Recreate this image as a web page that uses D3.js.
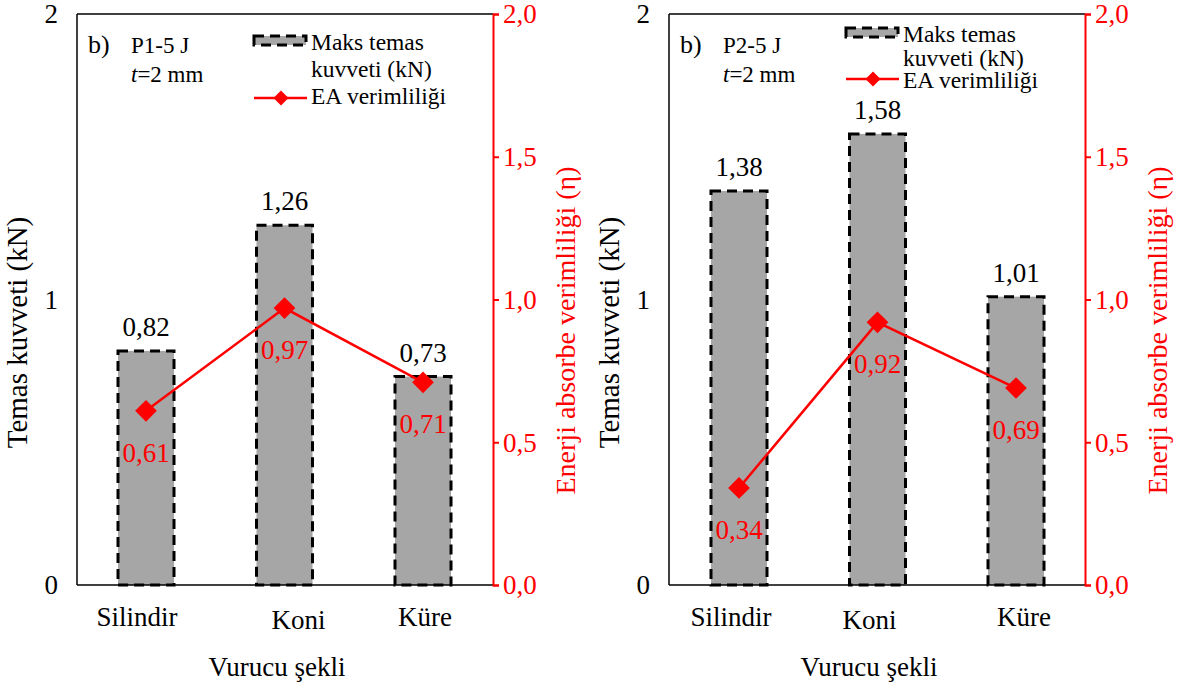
<!DOCTYPE html>
<html>
<head>
<meta charset="utf-8">
<script src="https://cdn.jsdelivr.net/npm/d3@7"></script>
<style>
  body { margin: 0; background: #fff; }
</style>
</head>
<body>
<svg id="chart" width="1186" height="691"></svg>
<script>
// Impactor shapes
const categories = ["Silindir", "Koni", "Küre"];

// Panel P1-5 J
const forceP1 = [0.82, 1.26, 0.73];      // max contact force (kN)
const effP1 = [0.61, 0.97, 0.71];        // energy absorption efficiency

// Panel P2-5 J
const forceP2 = [1.38, 1.58, 1.01];
const effP2 = [0.34, 0.92, 0.69];

const leftTicks = [0, 1, 2];
const rightTicks = [0, 0.5, 1.0, 1.5, 2.0];

const SERIF = "'Liberation Serif', Tinos, 'Times New Roman', 'DejaVu Serif', 'Noto Serif', serif";

const panels = [
  { label: "P1-5 J", force: forceP1, eff: effP1, x0: 77, x1: 493,
    barCenters: [146, 285, 423], catShift: [-9, 14, 2], catY: [626, 629, 626],
    legend: { swatchY: 36, text: [50, 77, 104], lineY: 98 } },
  { label: "P2-5 J", force: forceP2, eff: effP2, x0: 669, x1: 1085,
    barCenters: [739, 877, 1016], catShift: [-8, -8, 8], catY: [626, 629, 626],
    legend: { swatchY: 28, text: [42, 66, 88], lineY: 79 } }
];

const svg = d3.select("#chart").attr("font-family", SERIF);
const plotTop = 14, plotBottom = 585;
const red = "#ff0000";
const gray = "#a6a6a6";
const fs = 27;
const fmt = v => d3.format(".2f")(v).replace(".", ",");
const fmtTick = v => d3.format(".1f")(v).replace(".", ",");

function txt(sel) {
  return sel.append("text").attr("font-family", SERIF);
}

panels.forEach(p => {
  const g = svg.append("g");
  const xc = d3.scalePoint().domain(categories).range([p.barCenters[0], p.barCenters[2]]);
  const barW = 56;
  const yL = d3.scaleLinear().domain([0, 2]).range([plotBottom, plotTop]);
  const yR = d3.scaleLinear().domain([0, 2]).range([plotBottom, plotTop]);

  // frame: top and left lines
  g.append("line").attr("x1", p.x0).attr("x2", p.x1).attr("y1", plotTop).attr("y2", plotTop)
    .attr("stroke", "#000").attr("stroke-width", 1.5);
  g.append("line").attr("x1", p.x0).attr("x2", p.x0).attr("y1", plotTop).attr("y2", plotBottom)
    .attr("stroke", "#000").attr("stroke-width", 1.5);

  // bars
  g.selectAll("rect.bar").data(p.force).join("rect")
    .attr("class", "bar")
    .attr("x", (d, i) => xc(categories[i]) - barW / 2)
    .attr("y", d => yL(d))
    .attr("width", barW)
    .attr("height", d => plotBottom - yL(d))
    .attr("fill", gray)
    .attr("stroke", "#000")
    .attr("stroke-width", 3)
    .attr("stroke-dasharray", "10,6");

  // baseline
  g.append("line").attr("x1", p.x0).attr("x2", p.x1).attr("y1", plotBottom).attr("y2", plotBottom)
    .attr("stroke", "#000").attr("stroke-width", 1.5);

  // bar value labels
  g.selectAll("text.fv").data(p.force).join("text")
    .attr("class", "fv")
    .attr("font-family", SERIF)
    .attr("x", (d, i) => xc(categories[i]))
    .attr("y", d => yL(d) - 15)
    .attr("text-anchor", "middle")
    .attr("font-size", fs)
    .attr("fill", "#000")
    .text(d => fmt(d));

  // left axis labels (no tick marks)
  g.selectAll("text.lt").data(leftTicks).join("text")
    .attr("class", "lt")
    .attr("font-family", SERIF)
    .attr("x", p.x0 - 19)
    .attr("y", d => yL(d) + 9)
    .attr("text-anchor", "end")
    .attr("font-size", fs)
    .text(d => d);

  // right axis
  const axR = d3.axisRight(yR).tickValues(rightTicks).tickFormat(fmtTick).tickSize(6).tickPadding(4);
  const gr = g.append("g").attr("transform", `translate(${p.x1},0)`).call(axR);
  gr.attr("font-family", SERIF).attr("font-size", fs);
  gr.select(".domain").attr("stroke", red).attr("stroke-width", 2);
  gr.selectAll(".tick line").attr("stroke", red).attr("stroke-width", 2);
  gr.selectAll(".tick text").attr("fill", red).attr("font-family", SERIF)
    .attr("font-size", fs).attr("dy", "0.33em");

  // efficiency line and markers
  const line = d3.line().x((d, i) => xc(categories[i])).y(d => yR(d));
  g.append("path").datum(p.eff).attr("d", line)
    .attr("fill", "none").attr("stroke", red).attr("stroke-width", 2.5);
  g.selectAll("path.mk").data(p.eff).join("path")
    .attr("class", "mk")
    .attr("d", d3.symbol().type(d3.symbolDiamond2).size(300))
    .attr("transform", (d, i) => `translate(${xc(categories[i])},${yR(d)})`)
    .attr("fill", red);
  g.selectAll("text.ev").data(p.eff).join("text")
    .attr("class", "ev")
    .attr("font-family", SERIF)
    .attr("x", (d, i) => xc(categories[i]))
    .attr("y", d => yR(d) + 51)
    .attr("text-anchor", "middle")
    .attr("font-size", fs)
    .attr("fill", red)
    .text(d => fmt(d));

  // category labels
  g.selectAll("text.cat").data(categories).join("text")
    .attr("class", "cat")
    .attr("font-family", SERIF)
    .attr("x", (d, i) => xc(d) + p.catShift[i])
    .attr("y", (d, i) => p.catY[i])
    .attr("text-anchor", "middle")
    .attr("font-size", fs)
    .text(d => d);

  // axis titles
  txt(g)
    .attr("x", (p.x0 + p.x1) / 2 - 8)
    .attr("y", 676)
    .attr("text-anchor", "middle")
    .attr("font-size", fs)
    .text("Vurucu şekli");
  txt(g)
    .attr("transform", `translate(${p.x0 - 50},${(plotTop + plotBottom) / 2 + 33}) rotate(-90)`)
    .attr("text-anchor", "middle")
    .attr("font-size", 29)
    .text("Temas kuvveti (kN)");
  txt(g)
    .attr("transform", `translate(${p.x1 + 82},${(plotTop + plotBottom) / 2 + 31}) rotate(-90)`)
    .attr("text-anchor", "middle")
    .attr("font-size", 28)
    .attr("fill", red)
    .text("Enerji absorbe verimliliği (η)");

  // panel annotation
  txt(g).attr("x", p.x0 + 11).attr("y", 53).attr("font-size", 26).text("b)");
  txt(g).attr("x", p.x0 + 54).attr("y", 53).attr("font-size", 23).text(p.label);
  const t = txt(g).attr("x", p.x0 + 54).attr("y", 82).attr("font-size", 23);
  t.append("tspan").attr("font-style", "italic").text("t");
  t.append("tspan").text("=2 mm");

  // legend
  const lx = p.x0 + 177;
  const L = p.legend;
  g.append("rect").attr("x", lx).attr("y", L.swatchY).attr("width", 52).attr("height", 9)
    .attr("fill", gray).attr("stroke", "#000").attr("stroke-width", 3).attr("stroke-dasharray", "10,6");
  txt(g).attr("x", lx + 57).attr("y", L.text[0]).attr("font-size", 23.5).text("Maks temas");
  txt(g).attr("x", lx + 57).attr("y", L.text[1]).attr("font-size", 23.5).text("kuvveti (kN)");
  g.append("line").attr("x1", lx).attr("x2", lx + 53).attr("y1", L.lineY).attr("y2", L.lineY)
    .attr("stroke", red).attr("stroke-width", 2.5);
  g.append("path").attr("d", d3.symbol().type(d3.symbolDiamond2).size(145))
    .attr("transform", `translate(${lx + 27},${L.lineY})`).attr("fill", red);
  txt(g).attr("x", lx + 57).attr("y", L.text[2]).attr("font-size", 23.5).text("EA verimliliği");
});
</script>
</body>
</html>
